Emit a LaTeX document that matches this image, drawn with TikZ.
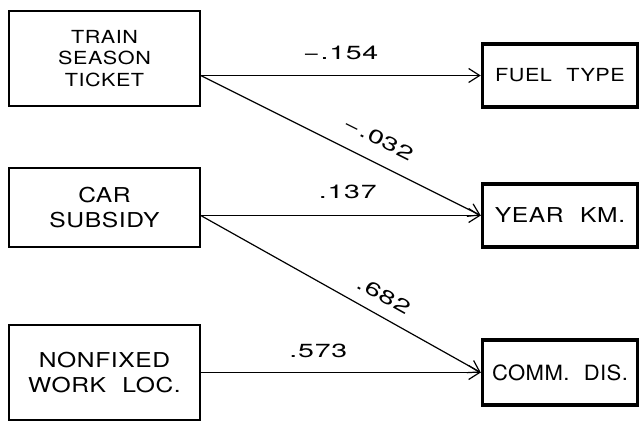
\documentclass[tikz,border=0pt]{standalone}
\usepackage{fontspec}
\setmainfont{TeX Gyre Heros}
\newfontfamily\boxfont[FakeStretch=1.2,LetterSpace=3,WordSpace=2.2]{TeX Gyre Heros}
\newfontfamily\narrowfont[FakeStretch=1.05,LetterSpace=2,WordSpace=2.2]{TeX Gyre Heros}
\newfontfamily\wtfont[FakeStretch=1.5,LetterSpace=4]{TeX Gyre Heros}
\usetikzlibrary{arrows.meta}

\begin{document}
\begin{tikzpicture}[x=1pt, y=-1pt,
  varbox/.style={draw, line width=1.5pt, minimum width=191pt, align=center,
    font=\boxfont\fontsize{18}{21.5}\selectfont},
  depbox/.style={draw, line width=3.5pt, minimum width=155pt, minimum height=63pt,
    inner sep=2pt, font=\boxfont\fontsize{18}{21.5}\selectfont},
  bigtext/.style={font=\boxfont\fontsize{20.5}{25.5}\selectfont},
  link/.style={line width=1.2pt, -{Straight Barb[length=11pt,width=14pt]}},
  wt/.style={font=\wtfont\fontsize{19}{22}\selectfont, inner sep=0pt}]
  \useasboundingbox (0,0) rectangle (640,427);
  % Explanatory variables
  \node[varbox, minimum height=95pt] (train) at (104.5,58.5) {TRAIN\\SEASON\\TICKET};
  \node[varbox, bigtext, minimum height=79pt] (car) at (104.5,207.5) {CAR\\SUBSIDY};
  \node[varbox, bigtext, minimum height=95pt] (nonfixed) at (104.5,372.5) {NONFIXED\\WORK LOC.};
  % Dependent variables
  \node[depbox] (fuel) at (560,75.5) {FUEL TYPE};
  \node[depbox, bigtext] (year) at (560,215.5) {YEAR KM.};
  \node[depbox, minimum height=65pt, font=\narrowfont\fontsize{21}{25.5}\selectfont]
    (comm) at (560,372.5) {COMM. DIS.};
  % Paths with coefficients
  \draw[link] (train.east |- fuel.west) -- (fuel.west)
    node[wt, pos=0.5, above=15pt] {−.154};
  \draw[link] (train.east |- fuel.west) -- (year.west)
    node[wt, pos=0.6, sloped, above=16pt] {−.032};
  \draw[link] (car.east |- year.west) -- (year.west)
    node[wt, pos=0.525, above=16pt] {.137};
  \draw[link] (car.east |- year.west) -- (comm.west)
    node[wt, pos=0.62, sloped, above=12pt] {.682};
  \draw[link] (nonfixed.east) -- (comm.west)
    node[wt, pos=0.42, above=14pt] {.573};
\end{tikzpicture}
\end{document}
